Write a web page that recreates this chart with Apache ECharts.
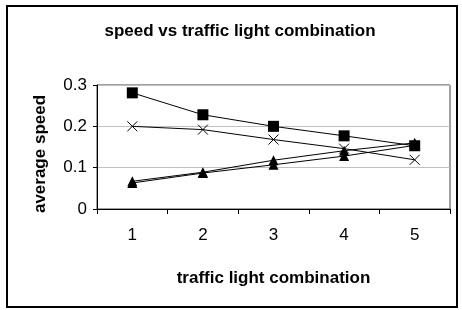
<!DOCTYPE html>
<html>
<head>
<meta charset="utf-8">
<script src="https://cdn.jsdelivr.net/npm/echarts@6/dist/echarts.min.js"></script>
<style>
  html, body { margin: 0; padding: 0; background: #fff; }
  #chart { width: 462px; height: 310px; }
</style>
</head>
<body>
<div id="chart"></div>
<script>
const categories = ['1', '2', '3', '4', '5']
const squareSeries = [0.281, 0.228, 0.2, 0.177, 0.153]
const crossSeries = [0.2, 0.192, 0.168, 0.146, 0.119]
const triUpper = [0.067, 0.089, 0.118, 0.141, 0.16]
const triLower = [0.063, 0.087, 0.107, 0.128, 0.154]
const yTicks = [0, 0.1, 0.2, 0.3]

const chart = echarts.init(document.getElementById('chart'))

const lineStyle = { color: '#000', width: 1 }
function mkSeries(data, symbol, size, extra) {
  return Object.assign({
    type: 'line',
    data: data,
    symbol: symbol,
    symbolSize: size,
    lineStyle: lineStyle,
    itemStyle: { color: '#000' },
    emphasis: { disabled: true },
    animation: false
  }, extra || {})
}

const option = {
  backgroundColor: '#fff',
  animation: false,
  title: {
    text: 'speed vs traffic light combination',
    left: 235,
    top: 18,
    textAlign: 'center',
    textStyle: { fontFamily: 'Arial', fontWeight: 'bold', fontSize: 17, color: '#000' }
  },
  graphic: [{
    type: 'rect',
    shape: { x: 7, y: 6, width: 450, height: 301 },
    style: { fill: 'none', stroke: '#000', lineWidth: 2 },
    z: -1
  }],
  grid: {
    left: 97, right: 12, top: 85, bottom: 101,
    show: true, borderColor: '#404040', borderWidth: 1
  },
  xAxis: {
    type: 'category',
    data: categories,
    boundaryGap: true,
    name: 'traffic light combination',
    nameLocation: 'middle',
    nameGap: 61,
    nameTextStyle: { fontFamily: 'Arial', fontWeight: 'bold', fontSize: 17, color: '#000' },
    axisLine: { lineStyle: { color: '#000', width: 1 } },
    axisTick: { show: true, length: 5, lineStyle: { color: '#000' } },
    axisLabel: { fontFamily: 'Arial', fontSize: 17, color: '#000', margin: 18 }
  },
  yAxis: {
    type: 'value',
    min: 0,
    max: 0.3,
    interval: 0.1,
    name: 'average speed',
    nameLocation: 'middle',
    nameGap: 48,
    nameTextStyle: {
      fontFamily: 'Arial', fontWeight: 'bold', fontSize: 17, color: '#000',
      padding: [0, 14, 0, 0]
    },
    axisLine: { show: true, lineStyle: { color: '#000', width: 1 } },
    axisTick: { show: true, length: 4, lineStyle: { color: '#000' } },
    axisLabel: {
      fontFamily: 'Arial', fontSize: 17, color: '#000', margin: 10,
      formatter: (v) => yTicks.includes(+v.toFixed(1)) ? String(+v.toFixed(1)) : ''
    },
    splitLine: { lineStyle: { color: '#c0c0c0', width: 1 } }
  },
  series: [
    mkSeries(squareSeries, 'rect', 11),
    mkSeries(crossSeries, 'path://M0,0L10,10M10,0L0,10', 10, {
      itemStyle: { color: 'none', borderColor: '#000', borderWidth: 1 }
    }),
    mkSeries(triUpper, 'triangle', 10),
    mkSeries(triLower, 'triangle', 10)
  ]
}
chart.setOption(option)
</script>
</body>
</html>
